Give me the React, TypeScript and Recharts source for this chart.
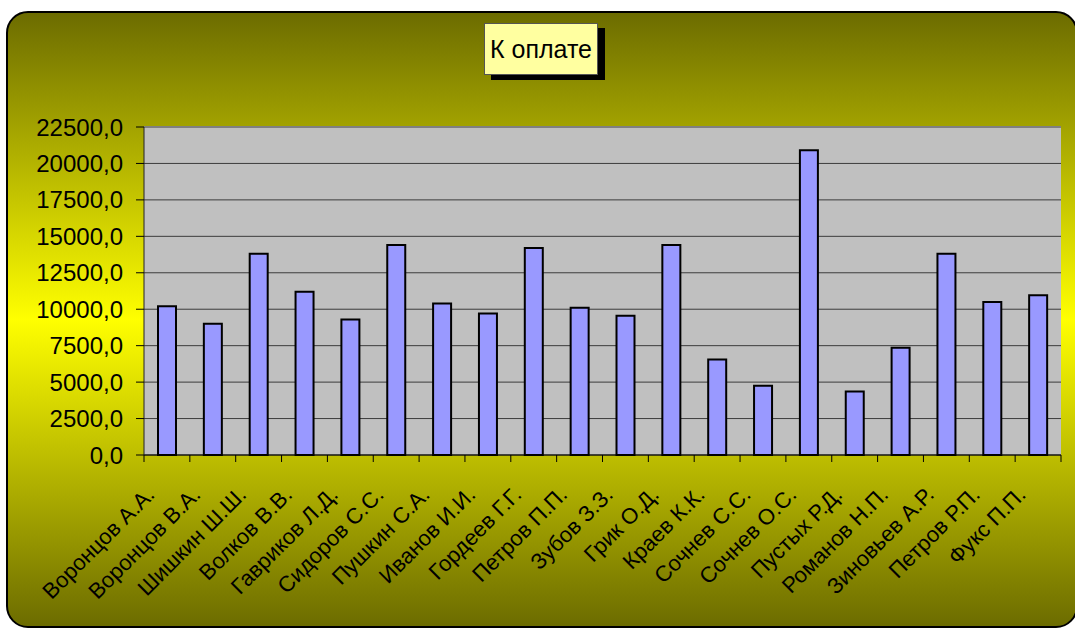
import React from "react";
import { BarChart, Bar, XAxis, YAxis, CartesianGrid, ReferenceLine } from "recharts";

const categories = [
  "Воронцов А.А.",
  "Воронцов В.А.",
  "Шишкин Ш.Ш.",
  "Волков В.В.",
  "Гавриков Л.Д.",
  "Сидоров С.С.",
  "Пушкин С.А.",
  "Иванов И.И.",
  "Гордеев Г.Г.",
  "Петров П.П.",
  "Зубов З.З.",
  "Грик О.Д.",
  "Краев К.К.",
  "Сочнев С.С.",
  "Сочнев О.С.",
  "Пустых Р.Д.",
  "Романов Н.П.",
  "Зиновьев А.Р.",
  "Петров Р.П.",
  "Фукс П.П.",
];

const toPay = [
  10200, 9000, 13800, 11200, 9300, 14400, 10400, 9700, 14200, 10100,
  9550, 14400, 6550, 4750, 20900, 4350, 7350, 13800, 10500, 10950,
];

const yTicks = [0, 2500, 5000, 7500, 10000, 12500, 15000, 17500, 20000, 22500];

const title = "К оплате";

const data = categories.map((name, i) => ({ name, v: toPay[i] }));

const FONT = "'Liberation Sans', Arial, sans-serif";

const fmt = (v: number) => v.toFixed(1).replace(".", ",");

function XTick(props: any) {
  const { x, y, payload, index, visibleTicksCount } = props;
  const half = payload && typeof payload.offset === "number" && payload.offset > 0 ? payload.offset : 22.9;
  const last = index === (visibleTicksCount ?? categories.length) - 1;
  const tx = x - 11;
  const ty = y + 41;
  return (
    <g>
      <line x1={x - half} y1={y} x2={x - half} y2={y + 7} stroke="#000" strokeWidth={1} />
      {last && <line x1={x + half} y1={y} x2={x + half} y2={y + 7} stroke="#000" strokeWidth={1} />}
      <text
        x={tx}
        y={ty}
        textAnchor="end"
        transform={`rotate(-45, ${tx}, ${ty})`}
        fontSize={22}
        fontFamily={FONT}
        fill="#000"
      >
        {payload.value}
      </text>
    </g>
  );
}

export default function App() {
  return (
    <div style={{ position: "absolute", left: 0, top: 0, width: 1075, height: 628, overflow: "hidden" }}>
      <div
        style={{
          position: "absolute",
          left: 6,
          top: 11,
          width: 1072,
          height: 617,
          boxSizing: "border-box",
          border: "2px solid #000",
          borderRadius: 22,
          background: "linear-gradient(to bottom, #6c6c00 0%, #ffff00 50%, #6c6c00 100%)",
        }}
      />
      <div style={{ position: "absolute", left: 0, top: 0 }}>
        <BarChart
          width={1075}
          height={628}
          data={data}
          margin={{ top: 127, right: 14, bottom: 13, left: 0 }}
          barSize={18}
        >
          <CartesianGrid vertical={false} fill="#c0c0c0" fillOpacity={1} stroke="#3c3c3c" strokeWidth={1} />
          <XAxis
            dataKey="name"
            interval={0}
            height={160}
            tickLine={false}
            tickSize={0}
            tickMargin={0}
            axisLine={{ stroke: "#000", strokeWidth: 1 }}
            tick={<XTick />}
          />
          <YAxis
            domain={[0, 22500]}
            ticks={yTicks}
            interval={0}
            width={144}
            tickSize={8}
            tickMargin={13}
            tickFormatter={fmt}
            axisLine={{ stroke: "#222", strokeWidth: 1 }}
            tickLine={{ stroke: "#000", strokeWidth: 1 }}
            tick={{ fontSize: 24, fontFamily: FONT, fill: "#000" }}
          />
          <YAxis
            yAxisId="r"
            orientation="right"
            domain={[0, 22500]}
            width={0}
            tick={false}
            tickLine={false}
            axisLine={{ stroke: "#808080", strokeWidth: 2 }}
          />
          <ReferenceLine y={22500} stroke="#808080" strokeWidth={2} />
          <Bar dataKey="v" fill="#9999ff" stroke="#000" strokeWidth={2} isAnimationActive={false} />
        </BarChart>
      </div>
      <div
        style={{
          position: "absolute",
          left: 484,
          top: 23,
          width: 114,
          height: 52,
          boxSizing: "border-box",
          background: "#ffffa0",
          border: "1px solid #555",
          boxShadow: "7px 5px 0 #000",
          fontFamily: FONT,
          fontSize: 25,
          lineHeight: "50px",
          textAlign: "center",
          color: "#000",
        }}
      >
        {title}
      </div>
    </div>
  );
}
